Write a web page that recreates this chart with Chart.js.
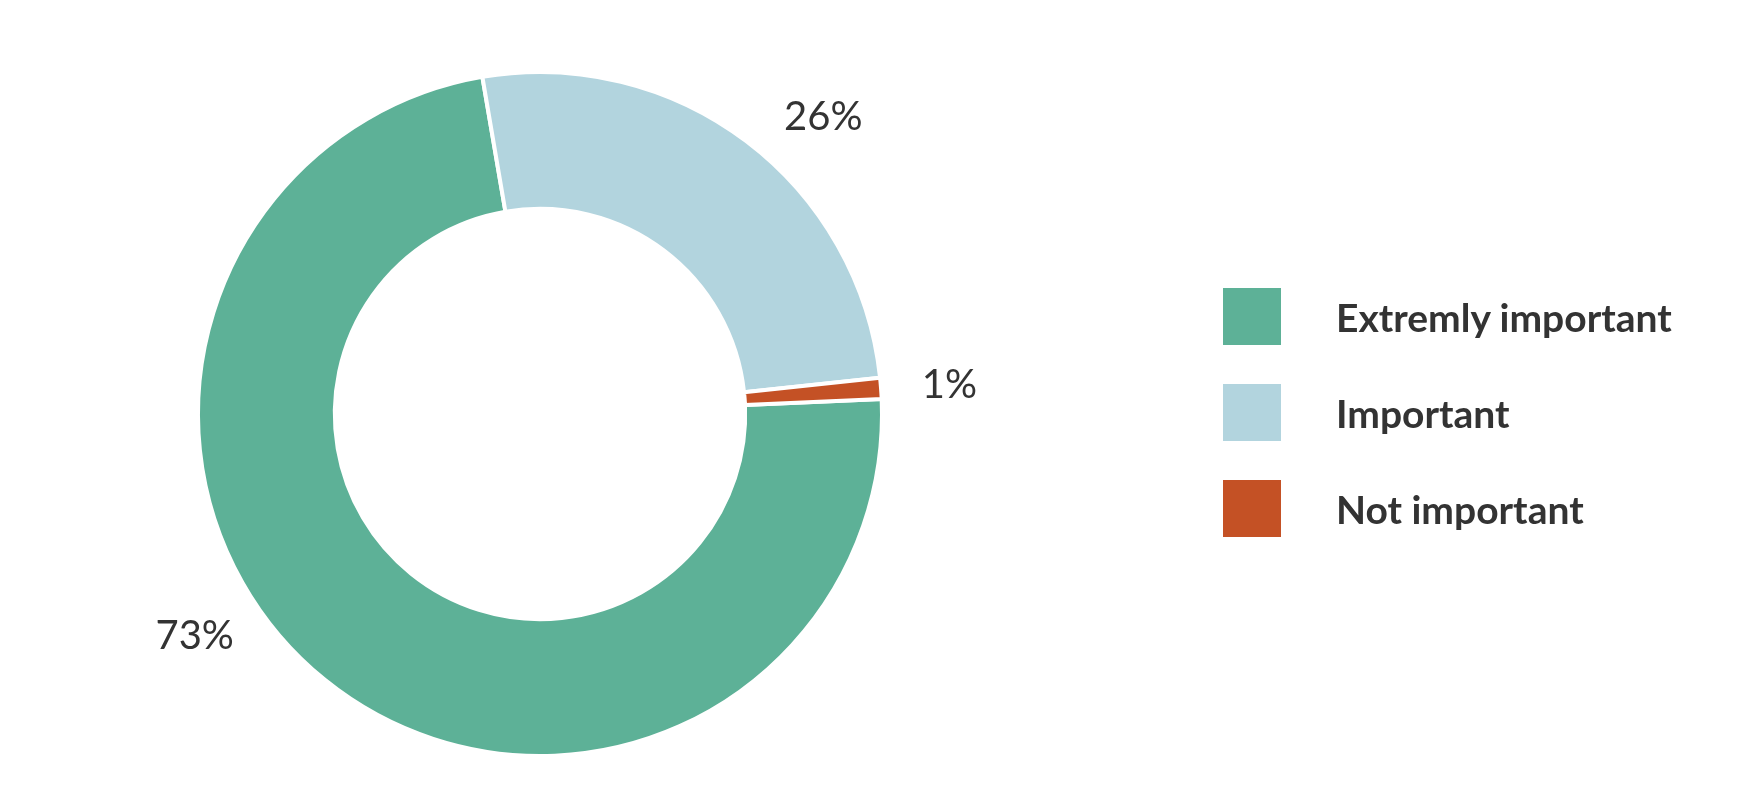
<!DOCTYPE html>
<html lang="en">
<head>
  <meta charset="UTF-8" />
  <title>Importance</title>
  <script src="https://cdn.jsdelivr.net/npm/chart.js"></script>
  <style>
    body {
      margin: 0;
      padding: 0;
      background: #fff;
      font-family: Lato, Arial, sans-serif;
    }

    #wrap {
      position: relative;
      width: 1748px;
      height: 786px;
    }

    #legend {
      position: absolute;
      left: 1223px;
      top: 288px;
    }

    .item {
      display: flex;
      align-items: center;
      height: 57px;
      margin-bottom: 39px;
    }

    .box {
      width: 58px;
      height: 57px;
      margin-right: 55px;
    }

    .text {
      font-weight: bold;
      font-size: 39px;
      color: #333;
    }
  </style>
</head>
<body>

  <div id="wrap">
    <canvas id="donut" width="1748" height="786"></canvas>
    <div id="legend"></div>
  </div>

  <script>
    // Datos
    const categories = ['Extremly important', 'Important', 'Not important'];
    const shares = [73, 26, 1];
    const colors = ['#5db197', '#b2d4de', '#c45125'];

    // Etiquetas de porcentaje fuera del anillo
    const outsideLabels = {
      id: 'outsideLabels',
      afterDatasetsDraw(chart) {
        const ctx = chart.ctx;
        const arcs = chart.getDatasetMeta(0).data;
        ctx.save();
        ctx.font = '40px Lato';
        ctx.fillStyle = '#333';
        ctx.textAlign = 'center';
        ctx.textBaseline = 'middle';
        arcs.forEach((arc, i) => {
          const a = arc.startAngle + 0.57 * (arc.endAngle - arc.startAngle);
          const r = arc.outerRadius * 1.2;
          ctx.fillText(shares[i] + '%', arc.x + Math.cos(a) * r, arc.y + Math.sin(a) * r);
        });
        ctx.restore();
      }
    };

    new Chart(document.getElementById('donut'), {
      type: 'doughnut',
      data: {
        labels: categories,
        datasets: [{
          data: shares,
          backgroundColor: colors,
          borderColor: '#fff',
          borderWidth: 4
        }]
      },
      options: {
        responsive: false,
        animation: false,
        rotation: 87.5,
        cutout: '60%',
        layout: {
          padding: { left: 196, top: 70, right: 864, bottom: 28 }
        },
        plugins: {
          legend: { display: false },
          tooltip: { enabled: false }
        }
      },
      plugins: [outsideLabels]
    });

    // Leyenda
    const legend = document.getElementById('legend');
    categories.forEach((c, i) => {
      const item = document.createElement('div');
      item.className = 'item';
      item.innerHTML = `<div class="box" style="background:${colors[i]}"></div><div class="text">${c}</div>`;
      legend.appendChild(item);
    });
  </script>

</body>
</html>
